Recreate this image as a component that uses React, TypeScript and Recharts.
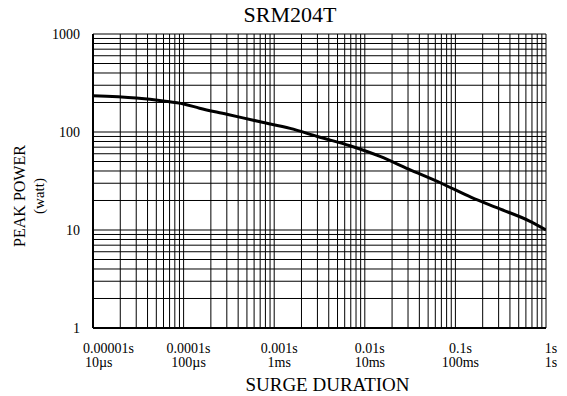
import { LineChart, Line, XAxis, YAxis, CartesianGrid, Label } from 'recharts'

// surge duration (s) vs peak pulse power (W)
const durations = [
  0.00001, 0.00003, 0.00006, 0.0001, 0.00015, 0.0003, 0.0007, 0.0015, 0.003, 0.007, 0.015, 0.03, 0.07,
  0.15, 0.3, 0.65, 1,
]
const peakPower = [234, 222, 207, 193, 175, 152, 127, 109, 90, 72, 56, 42, 30, 21.5, 16.6, 12.4, 10]

const xDecades = [0.00001, 0.0001, 0.001, 0.01, 0.1, 1]
const xLabelsTop = ['0.00001s', '0.0001s', '0.001s', '0.01s', '0.1s', '1s']
const xLabelsBottom = ['10µs', '100µs', '1ms', '10ms', '100ms', '1s']
const yDecades = [1, 10, 100, 1000]
const yLabels = ['1', '10', '100', '1000']

const FONT = '"Liberation Serif", "Times New Roman", serif'

// 1..9 per decade so the grid gets every minor line
function logTicks(decades: number[]) {
  const out: number[] = []
  decades.slice(0, -1).forEach((d) => {
    for (let k = 1; k < 10; k++) out.push(d * k)
  })
  out.push(decades[decades.length - 1])
  return out
}

const xTicks = logTicks(xDecades)
const yTicks = logTicks(yDecades)

const data = durations.map((t, i) => ({ t, p: peakPower[i] }))

function decadeIndex(list: number[], v: number) {
  return list.findIndex((d) => Math.abs(d - v) / d < 1e-6)
}

function XTick(props: any) {
  const { x, y, payload } = props
  const i = decadeIndex(xDecades, payload.value)
  if (i < 0) return <g />
  const first = i === 0
  return (
    <g fontFamily={FONT} fontSize={14} fill="#000">
      <text x={first ? x - 10 : x + 5} y={y + 25} textAnchor={first ? 'start' : 'middle'}>
        {xLabelsTop[i]}
      </text>
      <text x={first ? x - 8 : x + 5} y={y + 39} textAnchor={first ? 'start' : 'middle'}>
        {xLabelsBottom[i]}
      </text>
    </g>
  )
}

function YTick(props: any) {
  const { y, payload } = props
  const i = decadeIndex(yDecades, payload.value)
  if (i < 0) return <g />
  return (
    <text x={80} y={y + 5} textAnchor="end" fontFamily={FONT} fontSize={14} fill="#000">
      {yLabels[i]}
    </text>
  )
}

export default function App() {
  return (
    <div style={{ position: 'absolute', left: 0, top: 0, width: 567, height: 396, background: '#fff' }}>
      <div
        style={{
          position: 'absolute',
          left: 0,
          top: 2,
          width: 580,
          textAlign: 'center',
          fontFamily: FONT,
          fontSize: 22,
          color: '#000',
        }}
      >
        SRM204T
      </div>
      <LineChart width={567} height={396} data={data} margin={{ top: 34, right: 21, bottom: 0, left: 0 }}>
        <CartesianGrid stroke="#000" strokeWidth={1} strokeOpacity={1} />
        <XAxis
          dataKey="t"
          type="number"
          scale="log"
          domain={[0.00001, 1]}
          ticks={xTicks}
          interval={0}
          allowDataOverflow
          height={68}
          tickSize={0}
          tickMargin={0}
          tickLine={false}
          axisLine={{ stroke: '#000', strokeWidth: 2 }}
          tick={(p: any) => <XTick {...p} />}
        >
          <Label
            content={({ viewBox }: any) => (
              <text
                x={viewBox.x + viewBox.width / 2 + 8}
                y={391}
                textAnchor="middle"
                fontFamily={FONT}
                fontSize={19}
                fill="#000"
              >
                SURGE DURATION
              </text>
            )}
          />
        </XAxis>
        <YAxis
          type="number"
          scale="log"
          domain={[1, 1000]}
          ticks={yTicks}
          interval={0}
          allowDataOverflow
          width={93}
          tickSize={0}
          tickLine={false}
          axisLine={{ stroke: '#000', strokeWidth: 2 }}
          tick={(p: any) => <YTick {...p} />}
        >
          <Label
            content={({ viewBox }: any) => {
              const cy = viewBox.y + viewBox.height / 2 + 15
              return (
                <g fontFamily={FONT} fill="#000">
                  <text x={25} y={cy} transform={`rotate(-90 25 ${cy})`} textAnchor="middle" fontSize={16}>
                    PEAK POWER
                  </text>
                  <text x={44} y={cy} transform={`rotate(-90 44 ${cy})`} textAnchor="middle" fontSize={15}>
                    (watt)
                  </text>
                </g>
              )
            }}
          />
        </YAxis>
        <Line
          type="monotone"
          dataKey="p"
          stroke="#000"
          strokeWidth={3}
          dot={false}
          isAnimationActive={false}
        />
      </LineChart>
    </div>
  )
}
